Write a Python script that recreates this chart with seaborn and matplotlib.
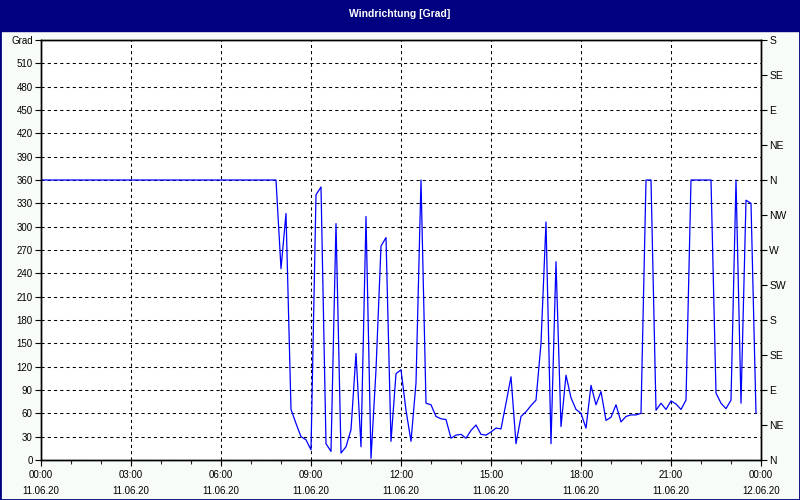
import matplotlib
matplotlib.use('Agg')
import matplotlib.pyplot as plt
import seaborn as sns
import pandas as pd
from matplotlib.patches import Rectangle
from matplotlib.ticker import MultipleLocator

# 10-minute wind direction readings (degrees)
times = [
    '00:00', '07:50',
    '08:00', '08:10', '08:20', '08:30', '08:40', '08:50',
    '09:00', '09:10', '09:20', '09:30', '09:40', '09:50',
    '10:00', '10:10', '10:20', '10:30', '10:40', '10:50',
    '11:00', '11:10', '11:20', '11:30', '11:40', '11:50',
    '12:00', '12:10', '12:20', '12:30', '12:40', '12:50',
    '13:00', '13:10', '13:20', '13:30', '13:40', '13:50',
    '14:00', '14:10', '14:20', '14:30', '14:40', '14:50',
    '15:00', '15:10', '15:20', '15:30', '15:40', '15:50',
    '16:00', '16:10', '16:20', '16:30', '16:40', '16:50',
    '17:00', '17:10', '17:20', '17:30', '17:40', '17:50',
    '18:00', '18:10', '18:20', '18:30', '18:40', '18:50',
    '19:00', '19:10', '19:20', '19:30', '19:40', '19:50',
    '20:00', '20:10', '20:20', '20:30', '20:40', '20:50',
    '21:00', '21:10', '21:20', '21:30', '21:40', '21:50',
    '22:00', '22:10', '22:20', '22:30', '22:40', '22:50',
    '23:00', '23:10', '23:20', '23:30', '23:40', '23:50',
]
direction = [
    360, 360,
    246, 317, 65, 47, 30, 26,
    13, 341, 351, 21, 11, 304,
    9, 17, 39, 137, 17, 313,
    2, 116, 275, 286, 24, 111,
    116, 64, 24, 99, 360, 73,
    71, 56, 53, 52, 28, 32,
    33, 28, 38, 45, 33, 32,
    36, 41, 40, 73, 107, 21,
    56, 62, 70, 77, 150, 306,
    21, 255, 43, 109, 80, 65,
    60, 41, 96, 71, 88, 51,
    55, 71, 49, 56, 58, 58,
    60, 360, 360, 64, 73, 65,
    76, 72, 65, 77, 360, 360,
    360, 360, 360, 86, 73, 66,
    77, 360, 73, 334, 330, 60,
]

x_ticks = [0, 3, 6, 9, 12, 15, 18, 21, 24]
x_tick_labels = ['00:00\n11.06.20', '03:00\n11.06.20', '06:00\n11.06.20',
                 '09:00\n11.06.20', '12:00\n11.06.20', '15:00\n11.06.20',
                 '18:00\n11.06.20', '21:00\n11.06.20', '00:00\n12.06.20']
grad_ticks = [0, 30, 60, 90, 120, 150, 180, 210, 240, 270, 300, 330,
              360, 390, 420, 450, 480, 510, 540]
grad_labels = [str(v) for v in grad_ticks[:-1]] + ['Grad']
compass_ticks = [0, 45, 90, 135, 180, 225, 270, 315, 360, 405, 450, 495, 540]
compass_labels = ['N', 'NE', 'E', 'SE', 'S', 'SW', 'W', 'NW',
                  'N', 'NE', 'E', 'SE', 'S']

df = pd.DataFrame({'time': times, 'direction': direction})
df['hour'] = pd.to_timedelta(df['time'] + ':00').dt.total_seconds() / 3600

sns.set_style('ticks')
plt.rcParams['font.family'] = ['Liberation Sans', 'DejaVu Sans']

navy = '#000080'
fig = plt.figure(figsize=(8, 5), dpi=100, facecolor='#f8fcf8')
ax = fig.add_axes([41 / 800, 40 / 500, 720 / 800, 420 / 500])
ax.set_facecolor('white')

sns.lineplot(data=df, x='hour', y='direction', ax=ax, color='#0000ff',
             linewidth=0.9, sort=False, estimator=None)

ax.set_xlim(0, 24)
ax.set_ylim(0, 540)
ax.set_xticks(x_ticks)
ax.set_xticklabels(x_tick_labels, linespacing=1.75)
ax.xaxis.set_minor_locator(MultipleLocator(1))
ax.set_yticks(grad_ticks)
ax.set_yticklabels(grad_labels)
ax.set_xlabel('')
ax.set_ylabel('')
ax.grid(True, color='black', linewidth=0.75, linestyle=(0, (3, 3)))
ax.tick_params(axis='both', which='major', direction='out', length=4,
               width=0.8, labelsize=7, pad=2, colors='black')
ax.tick_params(axis='x', which='minor', direction='out', length=3, width=0.8)
ax.tick_params(axis='x', which='major', pad=3)
for side in ax.spines.values():
    side.set_color('black')
    side.set_linewidth(1)

ax2 = ax.twinx()
ax2.set_ylim(0, 540)
ax2.set_yticks(compass_ticks)
ax2.set_yticklabels(compass_labels)
ax2.tick_params(axis='y', direction='out', length=4, width=0.8,
                labelsize=7.5, pad=2, colors='black')
ax2.grid(False)
for side in ax2.spines.values():
    side.set_color('black')
    side.set_linewidth(1)

# title bar and frame
fig.patches.append(Rectangle((0, 1 - 31 / 500), 1, 31 / 500,
                             transform=fig.transFigure, color=navy, zorder=0))
fig.text(0.5, 1 - 14 / 500, 'Windrichtung [Grad]', color='white',
         fontsize=7.5, fontweight='bold', ha='center', va='center')
fig.patches.append(Rectangle((0, 0), 1, 1, transform=fig.transFigure,
                             fill=False, edgecolor=navy, linewidth=2))

fig.savefig('out.png', dpi=100, facecolor=fig.get_facecolor())
